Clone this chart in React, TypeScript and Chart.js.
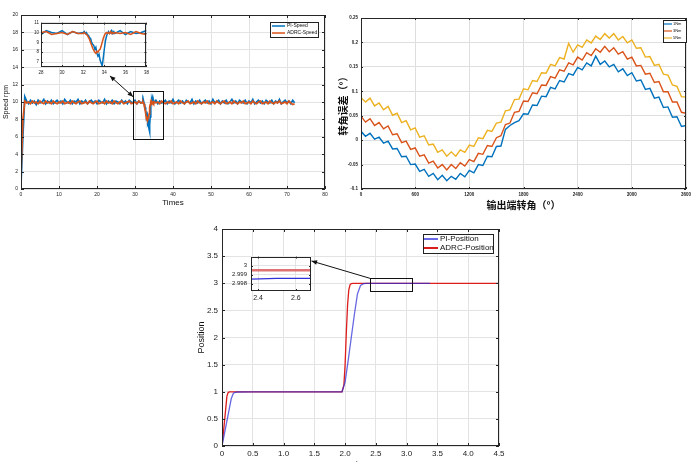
import React, { useEffect, useRef } from 'react';
import { Chart, registerables } from 'chart.js';
Chart.register(...registerables);

const SANS = '"Liberation Sans", Arial, sans-serif';
const CJK = '"Noto Sans CJK SC", "Noto Sans", sans-serif';
const BLUE = '#0072BD';
const ORANGE = '#D95319';
const YELLOW = '#EDB120';
const GRID = '#e3e3e3';

// ---------- Chart 1: speed (rpm) vs time ----------
const speedStepA = 0.5; // segment A starts at t = 0
const piSpeedA = [
  0.5, 6.0, 10.6, 10.1, 9.8, 10.2, 9.9, 10.1, 9.7, 10.2,
  9.9, 10.0, 10.3, 9.8, 10.1, 9.9, 10.2, 9.8, 10.0, 10.2,
  9.9, 10.1, 9.8, 10.3, 10.0, 9.9, 10.2, 9.8, 10.1, 10.0,
  10.3, 9.8, 10.1, 9.9, 10.2, 9.8, 10.0, 10.2, 9.9, 10.1,
  9.8, 10.2, 10.0, 9.9, 10.3, 9.8, 10.1, 9.9, 10.2, 9.8,
  10.1, 10.0, 9.8, 10.2, 9.9, 10.1, 9.8, 10.2, 10.0, 9.9,
  10.2, 9.8, 10.1, 9.9,
];
const adrcSpeedA = [
  1.5, 8.0, 10.1, 9.9, 10.0, 9.8, 10.1, 9.9, 10.0, 9.8,
  10.1, 9.9, 9.8, 10.1, 9.9, 10.0, 9.8, 10.1, 9.9, 9.8,
  10.0, 9.9, 10.1, 9.8, 9.9, 10.0, 9.8, 10.1, 9.9, 9.8,
  10.0, 10.1, 9.8, 9.9, 10.0, 9.8, 10.1, 9.9, 9.8, 10.0,
  10.1, 9.8, 9.9, 10.0, 9.8, 10.1, 9.9, 10.0, 9.8, 10.1,
  9.9, 9.8, 10.0, 10.1, 9.8, 9.9, 10.0, 10.1, 9.8, 9.9,
  10.0, 9.8, 10.1, 9.9,
];
const dipTimes = [
  32.0, 32.1, 32.2, 32.3, 32.4, 32.5, 32.6, 32.7, 32.8, 32.9,
  33.0, 33.1, 33.2, 33.3, 33.4, 33.5, 33.6, 33.7, 33.8, 33.9,
  34.0, 34.1, 34.2, 34.3, 34.4, 34.5, 34.6, 34.7, 34.8, 34.9, 35.0,
];
const piSpeedDip = [
  10.0, 10.1, 9.9, 10.0, 9.8, 9.7, 9.5, 9.4, 9.0, 8.8,
  8.7, 8.3, 8.5, 7.9, 7.6, 7.8, 7.2, 6.9, 6.6, 7.4,
  8.3, 9.1, 9.6, 9.9, 10.1, 9.9, 10.0, 10.2, 9.9, 10.1, 9.9,
];
const adrcSpeedDip = [
  9.9, 10.0, 9.9, 9.8, 9.7, 9.5, 9.3, 9.0, 8.7, 8.4,
  8.2, 8.0, 7.9, 8.1, 8.0, 8.2, 8.3, 8.6, 9.0, 9.4,
  9.7, 9.9, 10.0, 9.9, 10.0, 9.9, 10.1, 9.9, 10.0, 9.9, 10.0,
];
const speedStartC = 35.5;
const piSpeedC = [
  10.2, 9.8, 10.1, 9.9, 10.0, 10.2, 9.8, 10.1, 9.9, 10.3,
  9.8, 10.0, 10.2, 9.9, 10.1, 9.8, 10.2, 10.0, 9.9, 10.3,
  9.8, 10.1, 9.9, 10.2, 9.8, 10.0, 10.2, 9.9, 10.1, 9.8,
  10.3, 9.9, 10.0, 10.2, 9.8, 10.1, 9.9, 10.2, 9.8, 10.0,
  10.3, 9.9, 10.1, 9.8, 10.2, 10.0, 9.9, 10.2, 9.8, 10.1,
  9.9, 10.3, 9.8, 10.0, 10.2, 9.9, 10.1, 9.8, 10.2, 10.0,
  9.9, 10.2, 9.8, 10.1, 9.9, 10.3, 9.8, 10.0, 10.2, 9.9,
  10.1, 9.8, 10.2, 9.9,
];
const adrcSpeedC = [
  9.9, 10.0, 9.8, 10.1, 9.9, 9.8, 10.0, 9.9, 10.1, 9.8,
  9.9, 10.0, 9.8, 10.1, 9.9, 9.8, 10.0, 10.1, 9.8, 9.9,
  10.0, 9.8, 10.1, 9.9, 9.8, 10.0, 9.9, 10.1, 9.8, 9.9,
  10.0, 9.8, 10.1, 9.9, 9.8, 10.0, 10.1, 9.8, 9.9, 10.0,
  9.8, 10.1, 9.9, 9.8, 10.0, 9.9, 10.1, 9.8, 9.9, 10.0,
  9.8, 10.1, 9.9, 9.8, 10.0, 10.1, 9.8, 9.9, 10.0, 9.8,
  10.1, 9.9, 9.8, 10.0, 9.9, 10.1, 9.8, 9.9, 10.0, 9.8,
  10.1, 9.9, 9.7, 9.8,
];
const speedXTicks = { min: 0, max: 80, step: 10 };
const speedYTicks = { min: 0, max: 20, step: 2 };
const speedLabels = ['PI-Speed', 'ADRC-Speed'];

// ---------- Chart 2: angle error vs output angle ----------
const angleStep = 50;
const err1 = [
  0.018, 0.008, 0.014, 0.002, 0.006, -0.006, -0.002, -0.018, -0.017, -0.034,
  -0.033, -0.05, -0.049, -0.064, -0.06, -0.074, -0.068, -0.081, -0.072, -0.083,
  -0.074, -0.08, -0.068, -0.075, -0.062, -0.067, -0.05, -0.052, -0.033, -0.034,
  -0.013, -0.012, 0.022, 0.03, 0.036, 0.04, 0.054, 0.053, 0.072, 0.071,
  0.09, 0.089, 0.108, 0.105, 0.122, 0.119, 0.136, 0.133, 0.149, 0.144,
  0.158, 0.152, 0.172, 0.155, 0.162, 0.15, 0.155, 0.14, 0.146, 0.132,
  0.138, 0.121, 0.123, 0.104, 0.106, 0.086, 0.088, 0.067, 0.068, 0.047,
  0.048, 0.028, 0.03,
];
const err2 = [
  0.049, 0.037, 0.044, 0.03, 0.036, 0.023, 0.029, 0.011, 0.013, -0.005,
  -0.002, -0.019, -0.016, -0.033, -0.03, -0.047, -0.043, -0.057, -0.05, -0.061,
  -0.05, -0.058, -0.046, -0.053, -0.04, -0.044, -0.027, -0.029, -0.011, -0.013,
  0.005, 0.009, 0.032, 0.035, 0.057, 0.059, 0.08, 0.079, 0.097, 0.095,
  0.113, 0.112, 0.13, 0.127, 0.144, 0.141, 0.158, 0.154, 0.17, 0.164,
  0.179, 0.173, 0.187, 0.18, 0.192, 0.181, 0.189, 0.176, 0.181, 0.166,
  0.17, 0.152, 0.153, 0.135, 0.137, 0.118, 0.12, 0.099, 0.099, 0.078,
  0.078, 0.057, 0.055,
];
const err3 = [
  0.087, 0.078, 0.086, 0.07, 0.076, 0.062, 0.069, 0.051, 0.055, 0.036,
  0.04, 0.021, 0.025, 0.006, 0.009, -0.01, -0.008, -0.025, -0.02, -0.033,
  -0.024, -0.033, -0.02, -0.025, -0.01, -0.013, 0.005, 0.003, 0.02, 0.018,
  0.035, 0.037, 0.06, 0.062, 0.083, 0.084, 0.105, 0.103, 0.122, 0.12,
  0.138, 0.137, 0.155, 0.152, 0.169, 0.166, 0.198, 0.18, 0.195, 0.19,
  0.205, 0.199, 0.213, 0.206, 0.218, 0.209, 0.218, 0.205, 0.212, 0.199,
  0.205, 0.188, 0.189, 0.17, 0.171, 0.153, 0.155, 0.135, 0.133, 0.113,
  0.11, 0.089, 0.088,
];
const errLabels = ['1Nm', '3Nm', '5Nm'];

// ---------- Chart 3: position ----------
const piTime = [0, 0.05, 0.1, 0.15, 0.18, 0.2, 0.25, 0.5, 1.0, 1.5, 1.95, 2.0, 2.05, 2.1, 2.15, 2.2, 2.25, 2.3, 2.35, 2.5, 3.0, 3.38];
const piPos = [0, 0.29, 0.58, 0.87, 0.96, 0.985, 0.995, 0.997, 0.998, 0.998, 0.999, 1.18, 1.58, 2.0, 2.42, 2.8, 2.96, 2.993, 2.9985, 2.9986, 2.9986, 2.9986];
const adrcTime = [0, 0.03, 0.06, 0.08, 0.1, 0.12, 0.2, 1.0, 1.95, 1.98, 2.0, 2.02, 2.04, 2.06, 2.08, 2.1, 2.13, 2.5, 3.0, 4.5];
const adrcPos = [0, 0.33, 0.68, 0.92, 0.985, 0.997, 0.999, 0.999, 1.0, 1.12, 1.5, 2.1, 2.6, 2.88, 2.97, 2.995, 2.9995, 2.9995, 2.9995, 2.9995];
const posLabels = ['PI-Position', 'ADRC-Position'];

// ---------- helpers ----------
type Pt = { x: number; y: number };
const seq = (start: number, step: number, ys: number[]): Pt[] =>
  ys.map((y, i) => ({ x: Math.round((start + i * step) * 1000) / 1000, y }));
const zip = (xs: number[], ys: number[]): Pt[] => xs.map((x, i) => ({ x, y: ys[i] }));

const piSpeed = [...seq(0, speedStepA, piSpeedA), ...zip(dipTimes, piSpeedDip), ...seq(speedStartC, 0.5, piSpeedC)];
const adrcSpeed = [...seq(0, speedStepA, adrcSpeedA), ...zip(dipTimes, adrcSpeedDip), ...seq(speedStartC, 0.5, adrcSpeedC)];
const piPosition = zip(piTime, piPos);
const adrcPosition = zip(adrcTime, adrcPos);

// ---------- plugins ----------
const framePlugin: any = {
  id: 'frame',
  beforeDraw(chart: any, _a: any, o: any) {
    if (!o || !o.fill) return;
    const { ctx, chartArea: a } = chart;
    ctx.save();
    ctx.fillStyle = '#fff';
    ctx.fillRect(a.left, a.top, a.right - a.left, a.bottom - a.top);
    ctx.restore();
  },
  afterDatasetsDraw(chart: any, _a: any, o: any) {
    const { ctx, chartArea: a, scales } = chart;
    const tl = o && o.tick != null ? o.tick : 3;
    ctx.save();
    ctx.strokeStyle = '#262626';
    ctx.lineWidth = 1;
    ctx.beginPath();
    scales.x.ticks.forEach((t: any) => {
      const px = Math.round(scales.x.getPixelForValue(t.value)) + 0.5;
      ctx.moveTo(px, a.bottom); ctx.lineTo(px, a.bottom - tl);
      ctx.moveTo(px, a.top); ctx.lineTo(px, a.top + tl);
    });
    scales.y.ticks.forEach((t: any) => {
      const py = Math.round(scales.y.getPixelForValue(t.value)) + 0.5;
      ctx.moveTo(a.left, py); ctx.lineTo(a.left + tl, py);
      ctx.moveTo(a.right, py); ctx.lineTo(a.right - tl, py);
    });
    ctx.stroke();
    ctx.strokeRect(Math.round(a.left) + 0.5, Math.round(a.top) + 0.5, Math.round(a.right - a.left) - 1, Math.round(a.bottom - a.top) - 1);
    ctx.restore();
  },
};

const legendPlugin: any = {
  id: 'boxLegend',
  afterDraw(chart: any, _a: any, o: any) {
    if (!o || !o.rows) return;
    const ctx = chart.ctx;
    ctx.save();
    ctx.fillStyle = '#fff';
    ctx.fillRect(o.x, o.y, o.w, o.h);
    ctx.strokeStyle = '#222';
    ctx.lineWidth = 1;
    ctx.strokeRect(o.x + 0.5, o.y + 0.5, o.w, o.h);
    ctx.font = `${o.size}px ${SANS}`;
    ctx.textBaseline = 'middle';
    chart.data.datasets.forEach((ds: any, i: number) => {
      const y = o.y + o.rows[i];
      ctx.strokeStyle = ds.legendColor || ds.borderColor;
      ctx.lineWidth = o.lw;
      ctx.beginPath();
      ctx.moveTo(o.x + o.l0, y);
      ctx.lineTo(o.x + o.l1, y);
      ctx.stroke();
      ctx.fillStyle = '#111';
      ctx.fillText(ds.label, o.x + o.tx, y);
    });
    ctx.restore();
  },
};

function arrowHead(ctx: any, fx: number, fy: number, tx: number, ty: number, size: number) {
  const ang = Math.atan2(ty - fy, tx - fx);
  ctx.beginPath();
  ctx.moveTo(tx, ty);
  ctx.lineTo(tx - size * Math.cos(ang - 0.4), ty - size * Math.sin(ang - 0.4));
  ctx.lineTo(tx - size * Math.cos(ang + 0.4), ty - size * Math.sin(ang + 0.4));
  ctx.closePath();
  ctx.fill();
}

const annotPlugin: any = {
  id: 'annot',
  afterDraw(chart: any, _a: any, o: any) {
    if (!o) return;
    const { ctx, scales: { x, y } } = chart;
    ctx.save();
    ctx.strokeStyle = '#111';
    ctx.fillStyle = '#111';
    ctx.lineWidth = 1;
    (o.rects || []).forEach((r: any) => {
      const X0 = Math.round(x.getPixelForValue(r.x0)) + 0.5;
      const X1 = Math.round(x.getPixelForValue(r.x1)) + 0.5;
      const Y0 = Math.round(y.getPixelForValue(r.y1)) + 0.5;
      const Y1 = Math.round(y.getPixelForValue(r.y0)) + 0.5;
      ctx.strokeRect(X0, Y0, X1 - X0, Y1 - Y0);
    });
    (o.arrows || []).forEach((a: any) => {
      const fx = x.getPixelForValue(a.x0), fy = y.getPixelForValue(a.y0);
      const tx = x.getPixelForValue(a.x1), ty = y.getPixelForValue(a.y1);
      ctx.beginPath();
      ctx.moveTo(fx, fy);
      ctx.lineTo(tx, ty);
      ctx.stroke();
      arrowHead(ctx, fx, fy, tx, ty, 6);
      if (a.both) arrowHead(ctx, tx, ty, fx, fy, 6);
    });
    ctx.restore();
  },
};

const PLUGINS = [framePlugin, legendPlugin, annotPlugin];

function axis(opts: any) {
  const { min, max, step, size, fixed, horizontal, title, titleSize, titlePad, tickPad, fmt, ticksList, family, bold, gridColor } = opts;
  return {
    type: 'linear',
    min,
    max,
    grid: { color: gridColor || GRID, drawTicks: false, lineWidth: 1 },
    border: { display: false },
    ticks: {
      stepSize: step,
      autoSkip: false,
      maxRotation: 0,
      padding: tickPad != null ? tickPad : 3,
      color: '#222',
      font: { size, family: SANS, weight: bold ? 'bold' : 'normal' },
      callback: fmt || ((v: number) => String(v)),
    },
    title: title
      ? {
          display: true,
          text: title,
          color: '#111',
          font: { size: titleSize, family: family || SANS, weight: bold ? 'bold' : 'normal' },
          padding: titlePad,
        }
      : { display: false },
    afterBuildTicks: ticksList
      ? (s: any) => { s.ticks = ticksList.map((v: number) => ({ value: v })); }
      : undefined,
    afterFit: (s: any) => {
      if (horizontal) s.height = fixed; else s.width = fixed;
    },
  };
}

const lineDs = (label: string, data: Pt[], color: string, width: number, order: number, extra: any = {}) => ({
  label, data, borderColor: color, borderWidth: width, pointRadius: 0, tension: 0, order, ...extra,
});

const base = (padding: any) => ({
  animation: false,
  responsive: false,
  events: [],
  layout: { padding },
});

function speedMain() {
  return {
    type: 'line',
    data: { datasets: [lineDs(speedLabels[0], piSpeed, BLUE, 1.7, 1), lineDs(speedLabels[1], adrcSpeed, ORANGE, 1.7, 0)] },
    options: {
      ...base({ left: 0, top: 15, right: 15, bottom: 7 }),
      plugins: {
        legend: { display: false }, tooltip: { enabled: false },
        frame: {},
        boxLegend: { x: 270, y: 22, w: 48, h: 15, rows: [4, 11], l0: 2, l1: 15, tx: 17, size: 5, lw: 1.5 },
        annot: {
          rects: [{ x0: 29.5, x1: 37.4, y0: 5.75, y1: 11.27 }],
          arrows: [{ x0: 29.5, y0: 10.6, x1: 23.4, y1: 13.0, both: true }],
        },
      },
      scales: {
        x: axis({ ...speedXTicks, size: 5, fixed: 19, horizontal: true, title: 'Times', titleSize: 8, titlePad: { top: 0, bottom: 0 } }),
        y: axis({ ...speedYTicks, size: 5, fixed: 21, title: 'Speed rpm', titleSize: 7, titlePad: { top: 2, bottom: 0 } }),
      },
    },
    plugins: PLUGINS,
  };
}

function speedInset() {
  return {
    type: 'line',
    data: { datasets: [lineDs(speedLabels[0], piSpeed, BLUE, 1.5, 1), lineDs(speedLabels[1], adrcSpeed, ORANGE, 1.5, 0)] },
    options: {
      ...base({ left: 0, top: 4, right: 4, bottom: 0 }),
      plugins: { legend: { display: false }, tooltip: { enabled: false }, frame: { fill: true, tick: 2 } },
      scales: {
        x: axis({ min: 28, max: 38, step: 2, size: 4.5, fixed: 13, horizontal: true }),
        y: axis({ min: 6.5, max: 11, step: 1, size: 4.5, fixed: 13, tickPad: 2, ticksList: [7, 8, 9, 10, 11] }),
      },
    },
    plugins: PLUGINS,
  };
}

function errorChart() {
  return {
    type: 'line',
    data: {
      datasets: [
        lineDs(errLabels[0], seq(0, angleStep, err1), BLUE, 1.4, 0),
        lineDs(errLabels[1], seq(0, angleStep, err2), ORANGE, 1.4, 1),
        lineDs(errLabels[2], seq(0, angleStep, err3), YELLOW, 1.4, 2),
      ],
    },
    options: {
      ...base({ left: 0, top: 18, right: 11, bottom: 4 }),
      plugins: {
        legend: { display: false }, tooltip: { enabled: false },
        frame: { tick: 2 },
        boxLegend: { x: 333, y: 20, w: 23, h: 22, rows: [4, 11, 18], l0: 1, l1: 9, tx: 10, size: 4, lw: 1.2 },
      },
      scales: {
        x: axis({ min: 0, max: 3600, step: 600, size: 4.5, bold: true, fixed: 22, horizontal: true, title: '输出端转角（°）', titleSize: 10, family: CJK, titlePad: { top: 0, bottom: 0 }, gridColor: '#dedede' }),
        y: axis({
          min: -0.1, max: 0.25, step: 0.05, size: 4.5, bold: true, fixed: 31, title: '转角误差（°）', titleSize: 10, family: CJK,
          titlePad: { top: 7, bottom: 0 }, gridColor: '#dedede',
          fmt: (v: number) => String(Math.round(v * 100) / 100),
        }),
      },
    },
    plugins: PLUGINS,
  };
}

const PI_COLOR = 'rgba(45,45,215,0.72)';
const ADRC_COLOR = '#dd1c1c';

function positionMain() {
  return {
    type: 'line',
    data: {
      datasets: [
        lineDs(posLabels[0], piPosition, PI_COLOR, 1.3, 0, { legendColor: '#6a6ae6' }),
        lineDs(posLabels[1], adrcPosition, ADRC_COLOR, 1.3, 1),
      ],
    },
    options: {
      ...base({ left: 0, top: 9, right: 11, bottom: 19 }),
      plugins: {
        legend: { display: false }, tooltip: { enabled: false },
        frame: {},
        boxLegend: { x: 233, y: 14, w: 70, h: 19, rows: [5, 14], l0: 1, l1: 15, tx: 17, size: 8, lw: 2 },
        annot: {
          rects: [{ x0: 2.404, x1: 3.09, y0: 2.863, y1: 3.091 }],
          arrows: [{ x0: 2.404, y0: 3.091, x1: 1.454, y1: 3.41 }],
        },
      },
      scales: {
        x: axis({
          min: 0, max: 4.5, step: 0.5, size: 8, fixed: 25, horizontal: true, title: 'Time', titleSize: 9, titlePad: { top: 0, bottom: 0 },
          fmt: (v: number) => (v === 0 ? '0' : v.toFixed(1)),
        }),
        y: axis({ min: 0, max: 4, step: 0.5, size: 8, fixed: 32, tickPad: 4, title: 'Position', titleSize: 9, titlePad: { top: 6, bottom: 0 } }),
      },
    },
    plugins: PLUGINS,
  };
}

function positionInset() {
  return {
    type: 'line',
    data: {
      datasets: [
        lineDs(posLabels[0], piPosition, '#3030d8', 1.4, 0),
        lineDs(posLabels[1], adrcPosition, 'rgba(215,90,90,0.85)', 2.6, 1),
      ],
    },
    options: {
      ...base({ left: 0, top: 4, right: 5, bottom: 0 }),
      plugins: { legend: { display: false }, tooltip: { enabled: false }, frame: { fill: true, tick: 2 } },
      scales: {
        x: axis({ min: 2.363, max: 2.68, step: 0.2, size: 7, fixed: 14, horizontal: true, ticksList: [2.4, 2.6], fmt: (v: number) => v.toFixed(1) }),
        y: axis({
          min: 2.9972, max: 3.001, step: 0.001, size: 6, fixed: 29, tickPad: 4, ticksList: [2.998, 2.999, 3],
          fmt: (v: number) => (v === 3 ? '3' : v.toFixed(3)),
        }),
      },
    },
    plugins: PLUGINS,
  };
}

function Panel({ left, top, width, height, make }: { left: number; top: number; width: number; height: number; make: () => any }) {
  const ref = useRef<HTMLCanvasElement>(null);
  useEffect(() => {
    const c = new Chart(ref.current as HTMLCanvasElement, make());
    return () => c.destroy();
  }, []);
  return (
    <canvas
      ref={ref}
      width={width}
      height={height}
      style={{ position: 'absolute', left, top, width, height, display: 'block' }}
    />
  );
}

export default function App() {
  return (
    <div style={{ position: 'fixed', left: 0, top: 0, width: 697, height: 462, overflow: 'hidden', background: '#fff' }}>
      <Panel left={0} top={0} width={340} height={215} make={speedMain} />
      <Panel left={330} top={0} width={367} height={215} make={errorChart} />
      <Panel left={190} top={220} width={320} height={270} make={positionMain} />
      <Panel left={28} top={18} width={124} height={62} make={speedInset} />
      <Panel left={222} top={249} width={94} height={56} make={positionInset} />
    </div>
  );
}
